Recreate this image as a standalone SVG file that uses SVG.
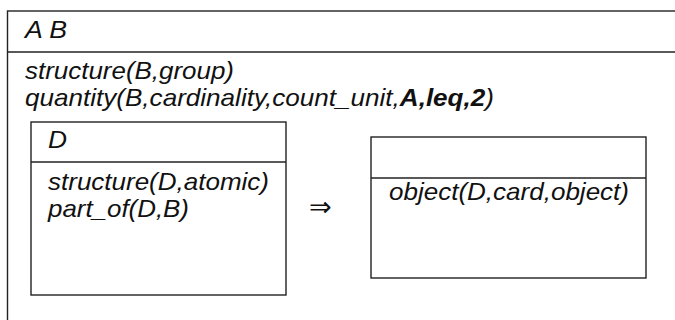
<svg xmlns="http://www.w3.org/2000/svg" width="675" height="320" viewBox="0 0 675 320">
<style>
.box{fill:none;stroke:#222;stroke-width:1.4}
.t{font-family:"Liberation Sans",Arial,sans-serif;font-style:italic;font-size:24px;fill:#111}
.b{font-weight:bold}
.sym{font-family:"DejaVu Sans",sans-serif;font-size:27px;fill:#111}
</style>
<rect width="675" height="320" fill="#fff"/>
<g id="outer">
<rect class="box" x="7.5" y="11" width="680" height="330"/>
<line class="box" x1="7.5" y1="52" x2="680" y2="52"/>
<text class="t" x="25" y="38" textLength="42" lengthAdjust="spacingAndGlyphs">A B</text>
<text class="t" x="25" y="79" textLength="209" lengthAdjust="spacingAndGlyphs">structure(B,group)</text>
<text class="t" x="25" y="106" textLength="469" lengthAdjust="spacingAndGlyphs">quantity(B,cardinality,count_unit,<tspan class="b">A,leq,2</tspan>)</text>
</g>
<g id="nodeD">
<rect class="box" x="31" y="122" width="255" height="173"/>
<line class="box" x1="31" y1="162" x2="286" y2="162"/>
<text class="t" x="48" y="148" textLength="19" lengthAdjust="spacingAndGlyphs">D</text>
<text class="t" x="48" y="190" textLength="221" lengthAdjust="spacingAndGlyphs">structure(D,atomic)</text>
<text class="t" x="48" y="217" textLength="141" lengthAdjust="spacingAndGlyphs">part_of(D,B)</text>
</g>
<g id="connectors">
<text class="sym" x="309" y="216">⇒</text>
</g>
<g id="nodeR">
<rect class="box" x="371" y="137" width="275" height="141"/>
<line class="box" x1="371" y1="178" x2="646" y2="178"/>
<text class="t" x="389" y="200" textLength="240" lengthAdjust="spacingAndGlyphs">object(D,card,object)</text>
</g>
</svg>
